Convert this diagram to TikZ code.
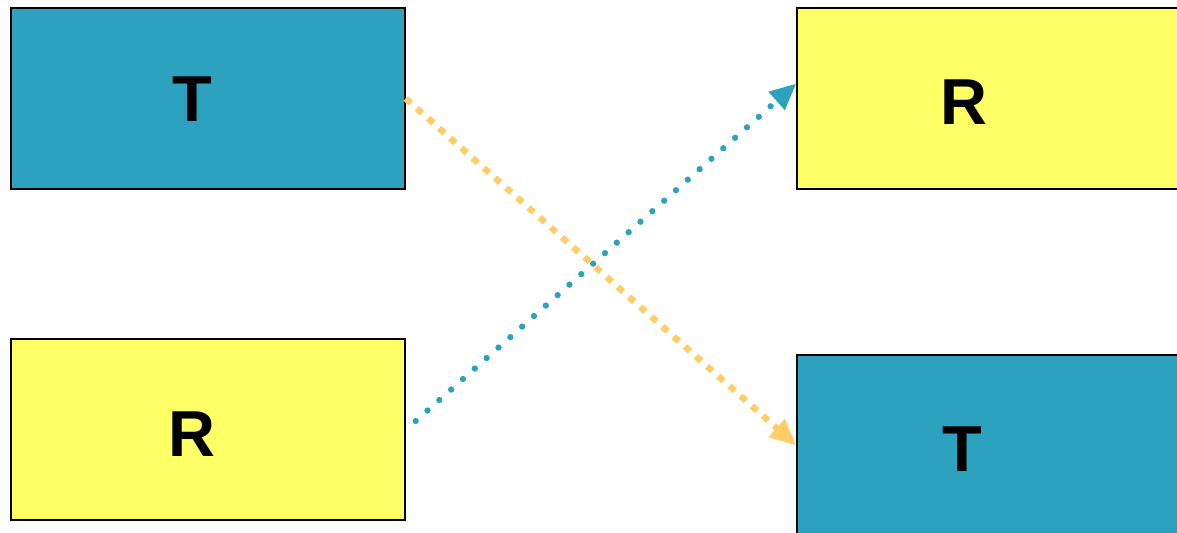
\documentclass[tikz,border=0pt]{standalone}
\usepackage{fontspec}
\setmainfont{Liberation Sans}
\usetikzlibrary{arrows.meta}

\begin{document}
\begin{tikzpicture}[x=0.02cm,y=-0.02cm]
  \definecolor{cT}{HTML}{2CA2BF}
  \definecolor{cR}{HTML}{FFFF66}
  \definecolor{cO}{HTML}{FFCC66}
  \def\bw{7.88cm}
  \def\bh{3.62cm}
  \tikzset{
    box/.style={draw=black,line width=0.8pt,minimum width=\bw,minimum height=\bh,inner sep=0pt},
    lbl/.style={font=\fontsize{37}{37}\selectfont\bfseries,inner sep=0pt},
    link/.style={line width=3.6pt,-{Triangle[length=15pt,width=13pt]}}
  }
  \useasboundingbox (0,0) rectangle (1177,533);
  \clip (0,0) rectangle (1177,533);

  % the four boxes
  \node[box,fill=cT] (t1) at (208,98.5) {};
  \node[box,fill=cR] (r1) at (208,429.5) {};
  \node[box,fill=cR] (r2) at (994,98.5) {};
  \node[box,fill=cT] (t2) at (994,445.5) {};
  \foreach \n/\t/\x/\y in {lt1/T/192/99,lr1/R/192/434,lr2/R/964/102,lt2/T/962/449}
    \node[lbl] (\n) at (\x,\y) {\t};

  % crossing links
  \draw[link,cO,dash pattern=on 4pt off 4.5pt] (t1.east) -- (t2.west);
  \draw[link,cT,line cap=round,dash pattern=on 0pt off 9pt]
    ([shift={(10,-8.5)}]r1.east) -- ([shift={(0,-15)}]r2.west);
\end{tikzpicture}
\end{document}
